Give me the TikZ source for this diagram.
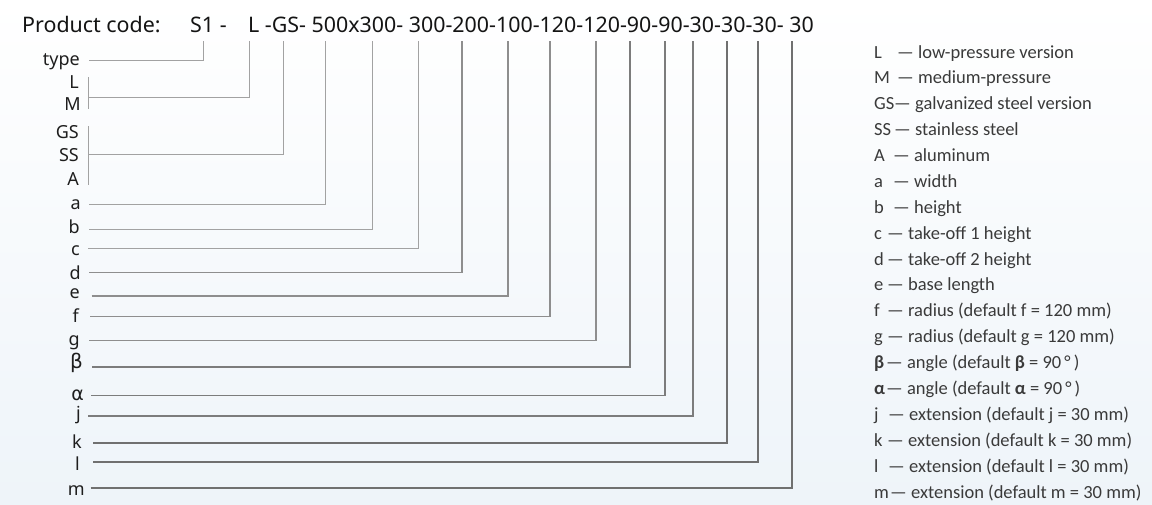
\documentclass[tikz,border=0pt]{standalone}
\usepackage{fontspec}
\setmainfont{Noto Sans}
\newfontfamily\legfont{Carlito}
\newfontfamily\grkfont{DejaVu Sans}
\usetikzlibrary{calc}
\definecolor{lineA}{HTML}{A2A2A2}
\definecolor{lineB}{HTML}{8E8E8E}
\definecolor{lineC}{HTML}{7C7C7C}
\definecolor{lineD}{HTML}{707070}
\definecolor{labeltext}{HTML}{1E1E1E}
\definecolor{legtext}{HTML}{3A3A3A}
\definecolor{bgblue}{HTML}{EEF4F9}
\newcommand\legkey[2]{\makebox[#1pt][l]{#2}}
\begin{document}
\begin{tikzpicture}[x=1pt,y=-1pt,
  hdr/.style={anchor=base west,inner sep=0pt,font=\fontsize{21.4}{24}\selectfont,text=black!92},
  lbl/.style={anchor=base east,inner sep=0pt,font=\fontsize{18}{20}\selectfont,text=labeltext},
  leg/.style={anchor=base west,inner sep=0pt,font=\legfont\fontsize{18.5}{20}\selectfont,text=legtext},
  leadA/.style={draw=lineA,line width=0.9pt},
  leadB/.style={draw=lineB,line width=1.2pt},
  leadC/.style={draw=lineC,line width=1.5pt},
  leadD/.style={draw=lineD,line width=1.8pt}]
\useasboundingbox (0,0) rectangle (1152,504);
\shade[top color=white,middle color=white,bottom color=bgblue] (0,0) rectangle (1152,504);

% header
\node[hdr] (pc) at (22,32) {Product code:};
\node[hdr] (cS1) at (190,32) {S1 -};
\node[hdr] (code) at (248,32) {L -GS- 500x300- 300-200-100-120-120-90-90-30-30-30- 30};

% tops of the vertical leads
\foreach \n/\x in {S1/203, L/249, GS/283, 500/325, 300a/372, 300b/418, 200/462, 100/508,
  120a/550, 120b/596, 90a/630, 90b/665, 30a/693, 30b/727, 30c/758, 30d/792}
  \coordinate (v\n) at (\x,41);

% left labels
\node[lbl] (ltype) at (80,65) {type};
\node[lbl] (lL) at (79,88) {L};
\node[lbl] (lM) at (81,110) {M};
\node[lbl] (lGS) at (79,138) {GS};
\node[lbl] (lSS) at (79,161) {SS};
\node[lbl] (lA) at (79,185) {A};
\node[lbl] (la) at (81,209) {a};
\node[lbl] (lb) at (80,233) {b};
\node[lbl] (lc) at (80,255) {c};
\node[lbl] (ld) at (81,279) {d};
\node[lbl] (le) at (80,298) {e};
\node[lbl] (lf) at (79,322) {f};
\node[lbl] (lg) at (80,345) {g};
\node[lbl,font=\grkfont\fontsize{20}{22}\selectfont] (lbeta) at (83,368) {β};
\node[lbl,font=\grkfont\fontsize{19}{22}\selectfont] (lalpha) at (84,400) {α};
\node[lbl] (lj) at (81,419) {j};
\node[lbl] (lk) at (82,448) {k};
\node[lbl] (ll) at (80,470) {l};
\node[lbl] (lm) at (85,495) {m};

% start points of the leads
\coordinate (stype) at (89,60.7);
\coordinate (bLMt) at (88,77);
\coordinate (bLMb) at (88,109);
\coordinate (bLM) at (88,97);
\coordinate (bGSt) at (88,126);
\coordinate (bGSb) at (88,185);
\coordinate (bGS) at (88,154);
\coordinate (sa) at (89,204.3);
\coordinate (sb) at (89,229.3);
\coordinate (sc) at (88,248.3);
\coordinate (sd) at (89,272.7);
\coordinate (se) at (91.7,296);
\coordinate (sf) at (90,316.7);
\coordinate (sg) at (89,340.5);
\coordinate (sbeta) at (92,367);
\coordinate (salpha) at (91,395.5);
\coordinate (sj) at (88,416);
\coordinate (sk) at (93,443);
\coordinate (sl) at (93,462);
\coordinate (sm) at (90.7,488.3);

% leads
\draw[leadA] (stype) -| (vS1);
\draw[leadA] (bLMt) -- (bLMb);
\draw[leadA] (bLM) -| (vL);
\draw[leadA] (bGSt) -- (bGSb);
\draw[leadA] (bGS) -| (vGS);
\draw[leadA] (sa) -| (v500);
\draw[leadA] (sb) -| (v300a);
\draw[leadA] (sc) -| (v300b);
\draw[leadB] (sd) -| (v200);
\draw[leadB] (se) -| (v100);
\draw[leadB] (sf) -| (v120a);
\draw[leadB] (sg) -| (v120b);
\draw[leadC] (sbeta) -| (v90a);
\draw[leadC] (salpha) -| (v90b);
\draw[leadC] (sj) -| (v30a);
\draw[leadD] (sk) -| (v30b);
\draw[leadD] (sl) -| (v30c);
\draw[leadD] (sm) -| (v30d);

% legend
\node[leg] (g0) at (874,58) {\legkey{23}{L}— low-pressure version};
\node[leg] (g1) at (874,83.9) {\legkey{23}{M}— medium-pressure};
\node[leg] (g2) at (874,109.8) {\legkey{20}{GS}— galvanized steel version};
\node[leg] (g3) at (874,135.6) {\legkey{20}{SS}— stainless steel};
\node[leg] (g4) at (874,161.5) {\legkey{19}{A}— aluminum};
\node[leg] (g5) at (874,187.4) {\legkey{19}{a}— width};
\node[leg] (g6) at (874,213.3) {\legkey{19}{b}— height};
\node[leg] (g7) at (874,239.2) {\legkey{13}{c}— take-off 1 height};
\node[leg] (g8) at (874,265) {\legkey{13}{d}— take-off 2 height};
\node[leg] (g9) at (874,290.9) {\legkey{13}{e}— base length};
\node[leg] (g10) at (874,316.8) {\legkey{13}{f}— radius (default f = 120 mm)};
\node[leg] (g11) at (874,342.7) {\legkey{13}{g}— radius (default g = 120 mm)};
\node[leg] (g12) at (874,368.6) {\legkey{12}{\textbf{β}}— angle (default \textbf{β} = 90\,°\,)};
\node[leg] (g13) at (874,394.4) {\legkey{12}{\textbf{α}}— angle (default \textbf{α} = 90\,°\,)};
\node[leg] (g14) at (874,420.3) {\legkey{14}{j}— extension (default j = 30 mm)};
\node[leg] (g15) at (874,446.2) {\legkey{13}{k}— extension (default k = 30 mm)};
\node[leg] (g16) at (874,472.1) {\legkey{14}{l}— extension (default l = 30 mm)};
\node[leg] (g17) at (874,498) {\legkey{16}{m}— extension (default m = 30 mm)};
\end{tikzpicture}
\end{document}
